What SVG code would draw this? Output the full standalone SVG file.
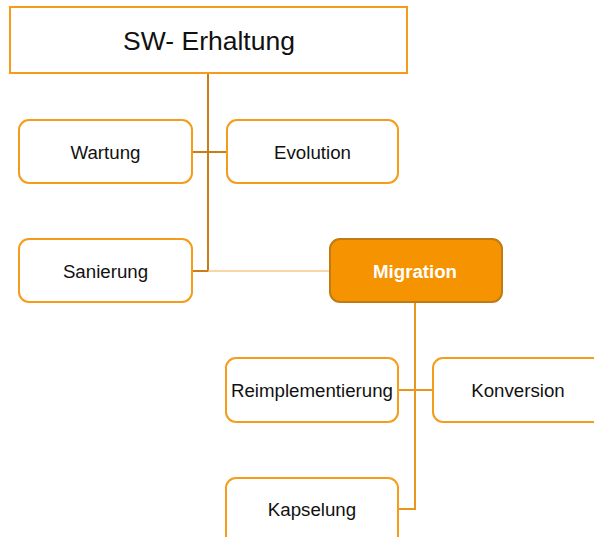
<svg xmlns="http://www.w3.org/2000/svg" width="594" height="537" viewBox="0 0 594 537">
<style>
.box{fill:#fff;stroke:#f59c1a;stroke-width:2}
.lbl{font-family:"Liberation Sans",Arial,sans-serif;font-size:18.7px;fill:#111;text-anchor:middle;dominant-baseline:central}
.c1{stroke:#c97d17;stroke-width:2;fill:none}
.c2{stroke:#e8961e;stroke-width:2;fill:none}
.c3{stroke:#f7c88a;stroke-width:1.5;fill:none}
</style>
<rect width="594" height="537" fill="#fff"/>
<g id="connectors">
<path class="c1" d="M208 73 V271 H192"/>
<path class="c1" d="M192 152 H227"/>
<path class="c3" d="M208 271 H330"/>
<path class="c2" d="M415 302 V509 H398"/>
<path class="c2" d="M398 390 H433"/>
</g>
<g id="root"><rect x="10" y="7" width="397" height="66" fill="#fff" stroke="#f59c1a" stroke-width="2"/><text class="lbl" x="209" y="41" style="font-size:26.5px">SW- Erhaltung</text></g>
<g id="wartung"><rect class="box" x="19" y="120" width="173" height="63" rx="10"/><text class="lbl" x="105.5" y="152">Wartung</text></g>
<g id="evolution"><rect class="box" x="227" y="120" width="171" height="63" rx="10"/><text class="lbl" x="312.5" y="152">Evolution</text></g>
<g id="sanierung"><rect class="box" x="19" y="239" width="173" height="63" rx="10"/><text class="lbl" x="105.5" y="271">Sanierung</text></g>
<g id="migration"><rect x="330" y="239" width="172" height="63" rx="10" fill="#f59300" stroke="#c27a14" stroke-width="2"/><text class="lbl" x="415" y="271" style="fill:#fff;font-weight:bold">Migration</text></g>
<g id="reimplementierung"><rect class="box" x="226" y="358" width="172" height="64" rx="10"/><text class="lbl" x="312" y="390">Reimplementierung</text></g>
<g id="konversion"><rect class="box" x="433" y="358" width="172" height="64" rx="10"/><text class="lbl" x="518" y="390">Konversion</text></g>
<g id="kapselung"><rect class="box" x="226" y="478" width="172" height="70" rx="10"/><text class="lbl" x="312" y="509">Kapselung</text></g>
</svg>
